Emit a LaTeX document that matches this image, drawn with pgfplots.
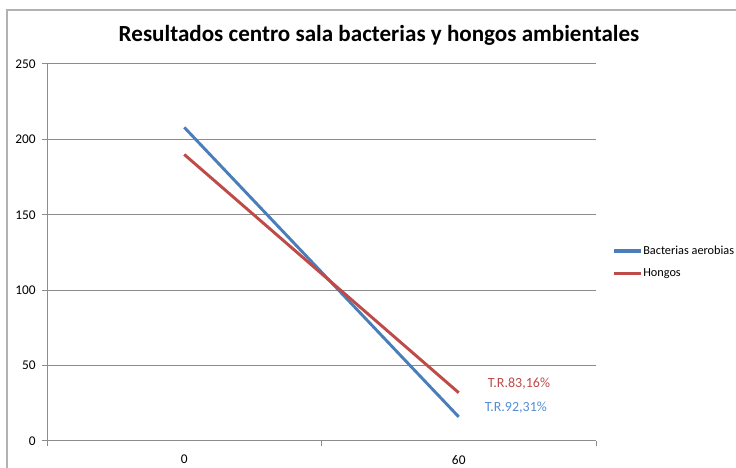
\documentclass[border=0pt]{standalone}
\usepackage{pgfplots}
\pgfplotsset{compat=1.18}
\usepackage{fontspec}
\setmainfont{Carlito}
\definecolor{xblue}{HTML}{4A7EBB}
\definecolor{xred}{HTML}{BE4B48}
\definecolor{xbluetxt}{HTML}{558ED5}
\definecolor{xgrid}{HTML}{8C8C8C}
\begin{document}
\begin{tikzpicture}[x=0.75pt,y=0.75pt]
\path[use as bounding box] (0,0) rectangle (736,468);
\draw[color=black!30, line width=1.2pt] (7,0) -- (7,458) -- (736,458);
\node[font=\fontsize{17.3}{20}\selectfont\bfseries] at (379,433) {Resultados centro sala bacterias y hongos ambientales};
\coordinate (A) at (47,27);
\begin{axis}[
  at={(A)}, anchor=south west,
  scale only axis, width=411.75pt, height=282.75pt,
  xmin=-0.5, xmax=1.5, ymin=0, ymax=250,
  axis x line*=bottom, axis y line*=left,
  axis line style={xgrid, line width=0.75pt, -},
  xtick={0,1}, xticklabels={0,60},
  minor xtick={-0.5,0.5,1.5},
  ytick={0,50,100,150,200,250},
  ymajorgrids, grid style={xgrid, line width=0.75pt},
  major x tick style={draw=none},
  minor x tick style={xgrid, line width=0.75pt},
  major y tick style={xgrid, line width=0.75pt},
  tick align=outside, major tick length=4pt, minor tick length=4pt,
  tick label style={font=\fontsize{10}{12}\selectfont},
  /pgf/number format/assume math mode=true,
  xticklabel style={yshift=-3pt},
  yticklabel style={xshift=-1pt},
  clip=false,
  legend style={at={(1.03,0.475)}, anchor=west, draw=none, fill=none,
    font=\fontsize{9.2}{11}\selectfont, inner sep=0pt, row sep=8pt,
    nodes={inner sep=0.5pt},
    /tikz/every even column/.append style={column sep=0pt}},
  legend cell align=left,
  legend image code/.code={\draw[#1, line width=2.4pt] (0pt,0pt) -- (20pt,0pt);},
]
\addplot[xblue, line width=2.2pt] coordinates {(0,208) (1,16)};
\addlegendentry{Bacterias aerobias}
\addplot[xred, line width=2.2pt] coordinates {(0,190) (1,32)};
\addlegendentry{Hongos}
\node[text=xred, font=\fontsize{10.5}{12}\selectfont] at (axis cs:1.2195,37.8) {T.R.83,16\%};
\node[text=xbluetxt, font=\fontsize{10.5}{12}\selectfont] at (axis cs:1.208,21.9) {T.R.92,31\%};
\end{axis}
\end{tikzpicture}
\end{document}
